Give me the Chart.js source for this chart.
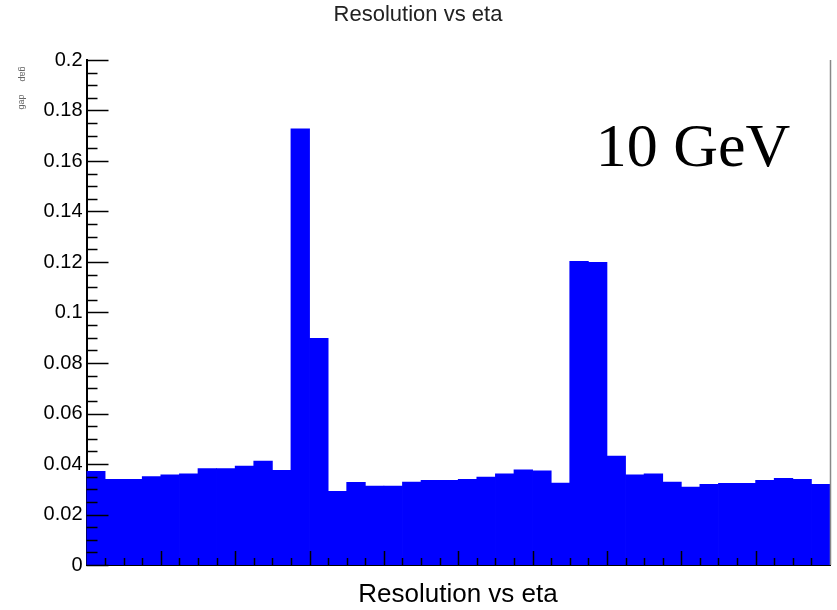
<!DOCTYPE html>
<html>
<head>
<meta charset="utf-8">
<script src="https://cdn.jsdelivr.net/npm/chart.js@4/dist/chart.umd.min.js"></script>
<style>
  html, body { margin: 0; padding: 0; background: #fff; }
  #chart { display: block; }
</style>
</head>
<body>
<canvas id="chart" width="837" height="610"></canvas>
<script>
// eta bins (40 bins from -3 to 3)
const etaBins = ['-2.925','-2.775','-2.625','-2.475','-2.325','-2.175','-2.025','-1.875','-1.725','-1.575',
  '-1.425','-1.275','-1.125','-0.975','-0.825','-0.675','-0.525','-0.375','-0.225','-0.075',
  '0.075','0.225','0.375','0.525','0.675','0.825','0.975','1.125','1.275','1.425',
  '1.575','1.725','1.875','2.025','2.175','2.325','2.475','2.625','2.775','2.925'];

// resolution per bin (10 GeV)
const resolution = [0.0372, 0.0341, 0.0341, 0.0351, 0.0358, 0.0362, 0.0383, 0.0383, 0.0393, 0.0413,
  0.0376, 0.1729, 0.0899, 0.0293, 0.0329, 0.0314, 0.0314, 0.0330, 0.0337, 0.0337,
  0.0341, 0.0350, 0.0362, 0.0378, 0.0374, 0.0326, 0.1204, 0.1200, 0.0433, 0.0358,
  0.0362, 0.0330, 0.0310, 0.0321, 0.0325, 0.0325, 0.0337, 0.0345, 0.0341, 0.0321];

const chartTitle = 'Resolution vs eta';
const xTitle = 'Resolution vs eta';
const energyLabel = '10 GeV';
const yMajorStep = 0.02;
const yMinorStep = 0.005;
const binsPerMajor = 4;

//dibujar marcas, titulos y textos extra
const rootStyle = {
  id: 'rootStyle',
  afterDatasetsDraw(chart) {
    const ctx = chart.ctx;
    const area = chart.chartArea;
    const y = chart.scales.y;
    ctx.save();
    ctx.strokeStyle = '#000';
    ctx.lineWidth = 1.5;
    // y ticks inside
    for (let v = 0; v <= 0.2 + 1e-9; v += yMinorStep) {
      const py = Math.round(y.getPixelForValue(v)) + 0.5;
      const major = Math.abs(v / yMajorStep - Math.round(v / yMajorStep)) < 1e-6;
      const len = major ? 22 : 11;
      ctx.beginPath();
      ctx.moveTo(area.left, py);
      ctx.lineTo(area.left + len, py);
      ctx.stroke();
    }
    // x ticks inside
    const slot = (area.right - area.left) / etaBins.length;
    for (let i = 1; i < etaBins.length; i++) {
      const px = Math.round(area.left + i * slot) + 0.5;
      const len = i % binsPerMajor === 0 ? 14 : 7;
      ctx.beginPath();
      ctx.moveTo(px, area.bottom);
      ctx.lineTo(px, area.bottom - len);
      ctx.stroke();
    }
    // right frame
    ctx.strokeStyle = '#888';
    ctx.beginPath();
    ctx.moveTo(area.right + 0.5, area.top);
    ctx.lineTo(area.right + 0.5, area.bottom);
    ctx.stroke();
    ctx.restore();
  },
  afterDraw(chart) {
    const ctx = chart.ctx;
    ctx.save();
    ctx.fillStyle = '#222';
    ctx.textAlign = 'center';
    ctx.textBaseline = 'middle';
    ctx.font = '22px "Liberation Sans", Arial, sans-serif';
    ctx.fillText(chartTitle, 418, 15);
    ctx.fillStyle = '#000';
    ctx.font = '26px "Liberation Sans", Arial, sans-serif';
    ctx.fillText(xTitle, 458, 595);
    ctx.font = '62px "Liberation Serif", "Times New Roman", serif';
    ctx.textBaseline = 'alphabetic';
    ctx.fillText(energyLabel, 693, 166);
    // restos del titulo del eje y
    ctx.fillStyle = '#666';
    ctx.font = '9px "Liberation Sans", Arial, sans-serif';
    ctx.textBaseline = 'middle';
    ctx.translate(22, 74);
    ctx.rotate(Math.PI / 2);
    ctx.fillText('gap', 0, 0);
    ctx.rotate(-Math.PI / 2);
    ctx.translate(0, 28);
    ctx.rotate(-Math.PI / 2);
    ctx.fillText('gap', 0, 0);
    ctx.restore();
  }
};

const data = {
  labels: etaBins,
  datasets: [{
    label: 'resolution',
    data: resolution,
    backgroundColor: '#0000ff',
    borderWidth: 0,
    barPercentage: 1.04,
    categoryPercentage: 1,
  }],
};

const config = {
  type: 'bar',
  data: data,
  plugins: [rootStyle],
  options: {
    responsive: false,
    animation: false,
    devicePixelRatio: 1,
    layout: { padding: { left: 0, right: 7, top: 60, bottom: 0 } },
    plugins: {
      legend: { display: false },
      title: { display: false },
      tooltip: { enabled: false },
    },
    scales: {
      x: {
        type: 'category',
        grid: { display: false, drawTicks: false },
        ticks: { display: false },
        border: { display: true, color: '#000', width: 2 },
        afterFit: (s) => { s.height = 45; },
      },
      y: {
        min: 0,
        max: 0.2,
        grid: { display: false, drawTicks: false },
        border: { display: true, color: '#000', width: 2 },
        ticks: {
          stepSize: yMajorStep,
          color: '#000',
          padding: 4,
          font: { family: '"Liberation Sans", Arial, sans-serif', size: 20 },
          callback: (v) => `${+v.toFixed(2)}`,
        },
        afterFit: (s) => { s.width = 86.5; },
      },
    },
  },
};

const chartDOM = document.querySelector('#chart');
const chart = new Chart(chartDOM, config);
</script>
</body>
</html>
